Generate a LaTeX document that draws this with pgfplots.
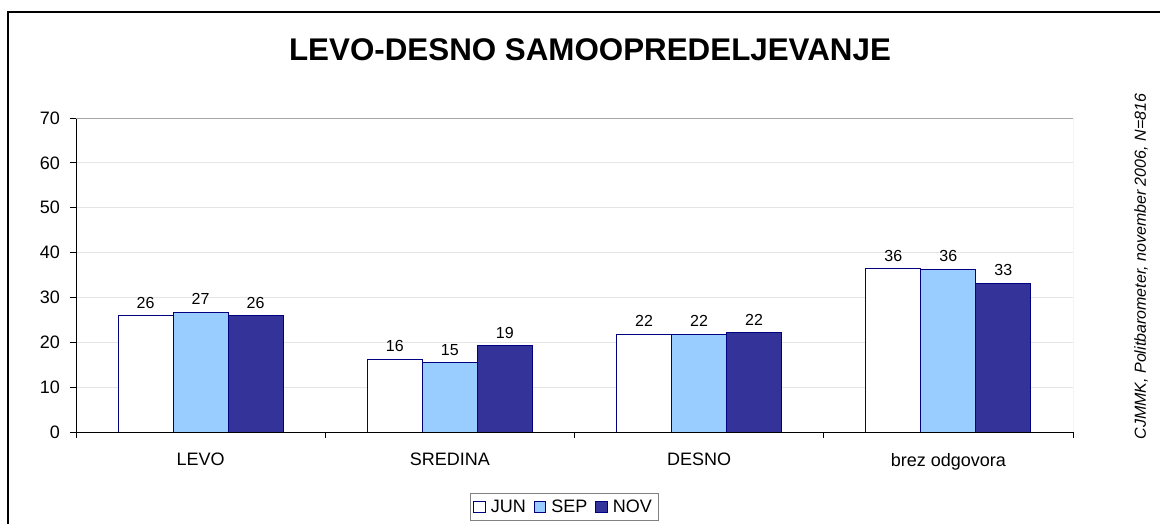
\documentclass[border=0pt]{standalone}
\usepackage{fontspec}
\setmainfont{Liberation Sans}
\usepackage{pgfplots}
\usepackage{pgfplotstable}
\pgfplotsset{compat=1.18}
\definecolor{navyb}{HTML}{000080}
\definecolor{sepc}{HTML}{99CCFF}
\definecolor{novc}{HTML}{333399}

\pgfplotstableread{
x y
0 25.9
1 16.2
2 21.8
3 36.4
}\jun
\pgfplotstableread{
x y
0 26.7
1 15.45
2 21.8
3 36.2
}\sep
\pgfplotstableread{
x y
0 25.9
1 19.2
2 22.1
3 33.1
}\nov

\begin{document}
\begin{tikzpicture}[x=1pt,y=1pt]
\useasboundingbox (0,0) rectangle (870,393);
\draw[line width=1.2pt] (6,-20) rectangle (900,384);
\node[font=\bfseries\fontsize{23.5}{26}\selectfont] at (442.5,355.5) {LEVO-DESNO SAMOOPREDELJEVANJE};
\node[rotate=90, font=\itshape\fontsize{12}{14}\selectfont] at (855.75,193) {CJMMK, Politbarometer, november 2006, N=816};
\begin{axis}[
  at={(57pt,69pt)}, anchor=south west, scale only axis,
  width=747.75pt, height=235.5pt,
  /pgf/number format/assume math mode=true,
  ybar=0pt, bar width=41.25pt,
  xmin=-0.5, xmax=3.5, ymin=0, ymax=70,
  axis lines*=left,
  axis line style={black, line width=0.6pt},
  xtick={0,1,2,3},
  xticklabels={LEVO,SREDINA,DESNO,brez odgovora},
  major x tick style={draw=none},
  minor xtick={-0.5,0.5,1.5,2.5,3.5},
  minor x tick style={black, line width=0.6pt},
  minor tick length=4.5pt,
  ytick={0,10,...,70},
  y tick style={black, line width=0.6pt},
  major tick length=4.5pt,
  tick align=outside,
  ymajorgrids, grid style={gray!20, line width=0.6pt},
  ticklabel style={font=\fontsize{13.5}{15}\selectfont},
  xticklabel style={yshift=-8pt},
  yticklabel style={xshift=-4pt},
  nodes near coords={\pgfmathprintnumber[fixed,precision=0]{\pgfplotspointmeta}},
  nodes near coords style={font=\fontsize{12}{14}\selectfont, yshift=2pt},
  legend columns=3,
  legend style={at={(0.4895,-0.239)}, anchor=center, draw=gray,
    font=\fontsize{13.5}{15}\selectfont, inner sep=2.5pt,
    /tikz/every odd column/.append style={column sep=2pt},
    /tikz/every even column/.append style={column sep=4pt}},
  legend image code/.code={\draw[#1] (0pt,-4pt) rectangle (8.5pt,4.5pt);},
]
\addplot[draw=navyb, fill=white, line width=0.6pt] table[x=x,y=y] {\jun};
\addplot[draw=navyb, fill=sepc, line width=0.6pt] table[x=x,y=y] {\sep};
\addplot[draw=navyb, fill=novc, line width=0.6pt] table[x=x,y=y] {\nov};
\legend{JUN,SEP,NOV}
\draw[gray!70, line width=0.6pt] (rel axis cs:0,1) -- (rel axis cs:1,1) -- (rel axis cs:1,0);
\end{axis}
\end{tikzpicture}
\end{document}
